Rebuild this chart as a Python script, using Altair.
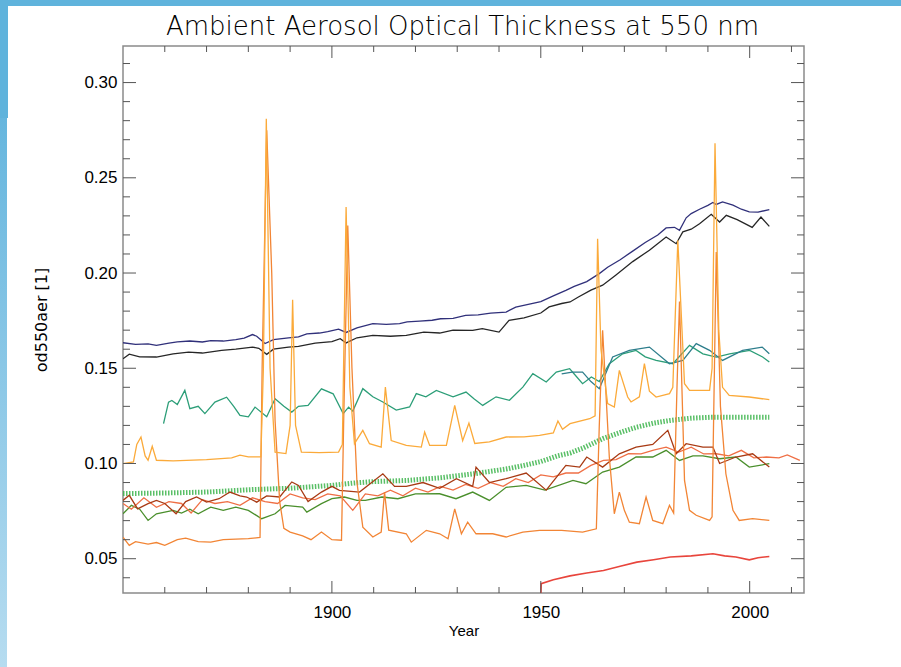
import altair as alt
import pandas as pd

TITLE = "Ambient Aerosol Optical Thickness at 550 nm"
X_TITLE = "Year"
Y_TITLE = "od550aer [1]"

X_DOMAIN = [1850, 2013]
Y_DOMAIN = [0.032, 0.3192]
x_labels = [1900, 1950, 2000]
x_minor = [1860, 1870, 1880, 1890, 1910, 1920, 1930, 1940, 1960, 1970, 1980, 1990, 2010]
y_labels = [0.05, 0.10, 0.15, 0.20, 0.25, 0.30]
y_minor = [0.04, 0.06, 0.07, 0.08, 0.09, 0.11, 0.12, 0.13, 0.14, 0.16, 0.17, 0.18, 0.19,
           0.21, 0.22, 0.23, 0.24, 0.26, 0.27, 0.28, 0.29, 0.31]

# (year, optical thickness) per model run
navy = [(1850, 0.1634), (1853, 0.1625), (1856, 0.1628), (1858, 0.1620), (1861, 0.1632), (1863, 0.1638),
        (1866, 0.1643), (1869, 0.1638), (1871, 0.1645), (1874, 0.1643), (1877, 0.1650), (1879, 0.1658),
        (1881, 0.1677), (1882, 0.1668), (1884, 0.1630), (1886, 0.1650), (1889.6, 0.1660), (1892, 0.1665),
        (1894, 0.1680), (1897, 0.1685), (1899, 0.1692), (1901.6, 0.1705), (1903.4, 0.1688), (1906, 0.1712),
        (1909.8, 0.1734), (1913, 0.1730), (1916.2, 0.1734), (1918, 0.1743), (1921, 0.1748), (1924, 0.1752),
        (1926, 0.1760), (1929, 0.1762), (1932, 0.1778), (1935, 0.1780), (1938, 0.1790), (1941.7, 0.1795),
        (1944, 0.1821), (1947, 0.1835), (1950, 0.1850), (1953, 0.1880), (1956, 0.1909), (1958, 0.1930),
        (1961, 0.1955), (1964, 0.1997), (1966, 0.2030), (1969, 0.2070), (1972, 0.2115), (1975, 0.2160),
        (1978, 0.2200), (1980, 0.2237), (1982, 0.2240), (1983.2, 0.2224), (1984.8, 0.2290), (1986, 0.2312),
        (1988, 0.2335), (1990, 0.2355), (1991.2, 0.2370), (1992, 0.2360), (1993.5, 0.2373), (1996, 0.2356),
        (1998, 0.2335), (1999.9, 0.2321), (2002, 0.2320), (2004.7, 0.2333)]

black = [(1850, 0.1550), (1851.5, 0.1574), (1854, 0.1560), (1858, 0.1559), (1862, 0.1575), (1865.7, 0.1585),
         (1869, 0.1580), (1873.6, 0.1594), (1877, 0.1600), (1881, 0.1611), (1882.5, 0.1605), (1884.4, 0.1573),
         (1886, 0.1600), (1889.6, 0.1611), (1892, 0.1615), (1896, 0.1632), (1900, 0.1640), (1902, 0.1655),
         (1903.4, 0.1633), (1906, 0.1660), (1909.8, 0.1673), (1914, 0.1668), (1917.8, 0.1673), (1922, 0.1690),
         (1925.8, 0.1685), (1929, 0.1700), (1933.7, 0.1699), (1936, 0.1708), (1940, 0.1690), (1942.4, 0.1752),
         (1946, 0.1765), (1950, 0.1790), (1952, 0.1822), (1955, 0.1840), (1957, 0.1848), (1959, 0.1874),
         (1962, 0.1910), (1964.8, 0.1936), (1968, 0.1990), (1972, 0.2060), (1976, 0.2120), (1980, 0.2189),
         (1982.4, 0.2154), (1984, 0.2216), (1986, 0.2230), (1988, 0.2259), (1990.8, 0.2308), (1992.8, 0.2268),
         (1994.4, 0.2303), (1997, 0.2280), (2000.6, 0.2240), (2002.7, 0.2294), (2004.7, 0.2245)]

teal = [(1859.7, 0.1209), (1860.9, 0.1322), (1861.7, 0.1331), (1863, 0.1310), (1864.8, 0.1384), (1866, 0.1288),
        (1868, 0.1300), (1869.6, 0.1262), (1872, 0.1322), (1874.8, 0.1348), (1876.5, 0.1300), (1878, 0.1253),
        (1880, 0.1245), (1881.6, 0.1296), (1884.4, 0.1245), (1886.4, 0.1340), (1888.5, 0.1300), (1890.4, 0.1270),
        (1892, 0.1300), (1894.3, 0.1305), (1897.5, 0.1392), (1900.3, 0.1366), (1902.7, 0.1262), (1904, 0.1296),
        (1905, 0.1275), (1907.4, 0.1393), (1909.8, 0.1350), (1912.2, 0.1323), (1915.4, 0.1280), (1918.6, 0.1297),
        (1920.2, 0.1367), (1922.5, 0.1350), (1925, 0.1384), (1929, 0.1350), (1932.1, 0.1375), (1934, 0.1340),
        (1936.1, 0.1305), (1939.3, 0.1350), (1942.5, 0.1332), (1945.7, 0.1401), (1948.1, 0.1472), (1951.3, 0.1428),
        (1953.7, 0.1480), (1956.9, 0.1498), (1958, 0.1470), (1960, 0.1419), (1962.1, 0.1454), (1964, 0.1430),
        (1966.4, 0.1524), (1969.6, 0.1576), (1972.8, 0.1594), (1975, 0.1560), (1977.6, 0.1541), (1981.6, 0.1524),
        (1985.6, 0.1620), (1988.8, 0.1576), (1992, 0.1559), (1995.2, 0.1576), (2000, 0.1594), (2003.1, 0.1559),
        (2004.7, 0.1533)]

blue_teal = [(1955, 0.1470), (1957.5, 0.1480), (1960, 0.1480), (1962, 0.1430), (1964, 0.1393), (1967.2, 0.1559),
             (1971.2, 0.1594), (1976, 0.1611), (1980.8, 0.1524), (1984, 0.1541), (1987.2, 0.1629), (1990.4, 0.1594),
             (1993.5, 0.1541), (1998.3, 0.1594), (2003, 0.1611), (2004.7, 0.1576)]

light_orange = [(1850, 0.0999), (1852.5, 0.1008), (1853.3, 0.1100), (1854.3, 0.1139), (1855.3, 0.1040),
                (1856, 0.1017), (1857, 0.1090), (1858, 0.1017), (1862, 0.1014), (1870, 0.1020), (1876, 0.1030),
                (1878, 0.1044), (1880, 0.1035), (1883, 0.1035), (1883.6, 0.1500), (1884.3, 0.2810), (1885.2, 0.1500),
                (1886.4, 0.1060), (1889, 0.1052), (1890, 0.1200), (1890.6, 0.1860), (1891.3, 0.1200), (1892.7, 0.1060),
                (1897, 0.1057), (1901.6, 0.1060), (1902.5, 0.1100), (1903.4, 0.2347), (1904.3, 0.1400), (1905.4, 0.1104),
                (1907.4, 0.1174), (1909, 0.1104), (1911.8, 0.1086), (1912.8, 0.1401), (1914.2, 0.1120), (1917.8, 0.1095),
                (1921.4, 0.1086), (1922.2, 0.1165), (1923.4, 0.1095), (1927.4, 0.1095), (1929.4, 0.1305), (1931.3, 0.1120),
                (1932.8, 0.1212), (1934.2, 0.1105), (1937.7, 0.1113), (1941.7, 0.1139), (1946, 0.1140), (1949.7, 0.1148),
                (1953, 0.1160), (1954.1, 0.1223), (1955.2, 0.1180), (1957, 0.1209), (1961.7, 0.1235), (1963, 0.1250),
                (1963.6, 0.2180), (1964.4, 0.1600), (1966, 0.1314), (1967.6, 0.1296), (1968.8, 0.1489), (1970.8, 0.1349),
                (1971.6, 0.1323), (1973.6, 0.1350), (1974.8, 0.1524), (1976, 0.1380), (1977.6, 0.1349), (1980.8, 0.1367),
                (1981.6, 0.1400), (1982.8, 0.2172), (1984.4, 0.1419), (1985.6, 0.1384), (1990.4, 0.1384), (1991, 0.1500),
                (1991.7, 0.2681), (1992.6, 0.1700), (1993.5, 0.1400), (1995.1, 0.1358), (1999.9, 0.1349), (2004.7, 0.1335)]

dark_orange = [(1850, 0.0613), (1851.5, 0.0570), (1853, 0.0590), (1856, 0.0577), (1858, 0.0585), (1860, 0.0570),
               (1863, 0.0600), (1865, 0.0608), (1868, 0.0590), (1871, 0.0587), (1874, 0.0600), (1877, 0.0603),
               (1880, 0.0605), (1882.8, 0.0612), (1883.3, 0.1500), (1884.4, 0.2750), (1885.6, 0.2000), (1886.4, 0.1226),
               (1887.5, 0.0800), (1888.5, 0.0660), (1890, 0.0640), (1893, 0.0620), (1895, 0.0600), (1897.5, 0.0640),
               (1900, 0.0600), (1902.3, 0.0597), (1902.8, 0.1200), (1903.8, 0.2250), (1904.8, 0.1500), (1906, 0.0900),
               (1907.4, 0.0666), (1909.8, 0.0614), (1911.8, 0.0640), (1912.6, 0.0850), (1913.6, 0.0650), (1917.8, 0.0631),
               (1919, 0.0587), (1922.6, 0.0649), (1925.8, 0.0631), (1927.8, 0.0605), (1929.4, 0.0762), (1931, 0.0631),
               (1932.5, 0.0692), (1934.5, 0.0631), (1938.5, 0.0631), (1941.7, 0.0614), (1945.7, 0.0640), (1949.7, 0.0649),
               (1955, 0.0649), (1960, 0.0640), (1963.3, 0.0657), (1964, 0.1200), (1964.8, 0.1699), (1966.4, 0.1034),
               (1967.6, 0.0736), (1968.8, 0.0850), (1970, 0.0754), (1971.2, 0.0692), (1973.6, 0.0684), (1975.2, 0.0824),
               (1976.8, 0.0701), (1979.2, 0.0684), (1980.8, 0.0780), (1981.8, 0.0740), (1982.6, 0.1400), (1983.2, 0.1850),
               (1984.4, 0.0911), (1985.6, 0.0754), (1987.2, 0.0728), (1990.4, 0.0701), (1991, 0.0720), (1992, 0.2110),
               (1993, 0.1300), (1994.3, 0.0946), (1996, 0.0754), (1997.5, 0.0701), (2000.7, 0.0710), (2004.7, 0.0701)]

light_green = [(1850, 0.0842), (1860, 0.0845), (1870, 0.0850), (1881, 0.0863), (1890, 0.0870), (1900, 0.0885),
               (1905, 0.0897), (1910, 0.0905), (1918, 0.0911), (1926, 0.0925), (1934, 0.0946), (1942, 0.0972),
               (1946, 0.0990), (1950, 0.1010), (1954, 0.1040), (1957, 0.1055), (1960, 0.1080), (1965, 0.1132),
               (1970, 0.1170), (1973, 0.1191), (1977, 0.1212), (1981, 0.1226), (1986, 0.1238), (1991, 0.1243),
               (1996, 0.1243), (2000, 0.1243), (2004.7, 0.1243)]

dark_red = [(1850, 0.0806), (1851.5, 0.0833), (1853.5, 0.0762), (1856, 0.0789), (1858, 0.0806), (1860, 0.0790),
            (1862.7, 0.0736), (1865, 0.0800), (1867.6, 0.0824), (1870, 0.0797), (1873, 0.0815), (1875.6, 0.0850),
            (1878, 0.0830), (1879.6, 0.0824), (1882, 0.0797), (1884.4, 0.0830), (1887.5, 0.0824), (1890.4, 0.0903),
            (1892, 0.0885), (1894.3, 0.0800), (1897.5, 0.0850), (1900, 0.0880), (1901.8, 0.0859), (1906.6, 0.0850),
            (1912.2, 0.0946), (1915, 0.0880), (1917.8, 0.0880), (1921.8, 0.0900), (1925.8, 0.0870), (1929.8, 0.0920),
            (1933.7, 0.0880), (1934.5, 0.0981), (1937.7, 0.0900), (1941.7, 0.0920), (1946.5, 0.0950), (1951.3, 0.0860),
            (1956, 0.0990), (1959.3, 0.0981), (1961, 0.1034), (1964.8, 0.0981), (1968.8, 0.1051), (1972.8, 0.1086),
            (1976.8, 0.1100), (1980.4, 0.1174), (1982.4, 0.1051), (1984.8, 0.1104), (1988.8, 0.1086), (1991.2, 0.1086),
            (1992.8, 0.1000), (1996.7, 0.1034), (2000.7, 0.1051), (2004.7, 0.0981)]

coral = [(1850, 0.0790), (1852, 0.0760), (1855, 0.0820), (1858, 0.0770), (1861, 0.0800), (1864, 0.0790),
         (1866.3, 0.0740), (1869, 0.0810), (1872, 0.0790), (1875, 0.0800), (1878, 0.0780), (1881, 0.0820),
         (1884, 0.0800), (1887, 0.0790), (1890, 0.0840), (1893, 0.0820), (1896, 0.0810), (1899, 0.0840),
         (1902, 0.0830), (1905, 0.0754), (1908, 0.0840), (1911, 0.0830), (1914, 0.0860), (1917, 0.0830),
         (1920, 0.0870), (1923, 0.0850), (1926, 0.0880), (1929, 0.0860), (1932, 0.0890), (1935, 0.0870),
         (1938, 0.0900), (1941, 0.0880), (1944, 0.0920), (1947, 0.0900), (1950, 0.0940), (1953, 0.0930),
         (1956, 0.0950), (1959, 0.0950), (1962, 0.0990), (1965, 0.1016), (1968, 0.1020), (1971, 0.1051),
         (1974, 0.1050), (1977, 0.1070), (1980, 0.1086), (1983, 0.1060), (1986, 0.1086), (1989, 0.1050),
         (1992, 0.1051), (1995, 0.1040), (1998, 0.1069), (2001, 0.1030), (2004, 0.1034), (2007, 0.1030),
         (2009, 0.1045), (2012, 0.1016)]

dark_green = [(1850, 0.0736), (1852, 0.0780), (1854, 0.0760), (1856, 0.0701), (1858, 0.0736), (1862, 0.0754),
              (1864, 0.0740), (1866, 0.0760), (1868, 0.0736), (1871, 0.0771), (1874, 0.0754), (1877, 0.0771),
              (1880, 0.0754), (1883.2, 0.0710), (1886.4, 0.0736), (1888.8, 0.0780), (1893, 0.0771), (1894, 0.0745),
              (1897.5, 0.0789), (1900, 0.0815), (1903, 0.0824), (1906, 0.0806), (1908, 0.0806), (1912, 0.0824),
              (1915.8, 0.0815), (1920, 0.0840), (1925.8, 0.0841), (1929.7, 0.0815), (1933.7, 0.0850), (1937.7, 0.0806),
              (1941.7, 0.0875), (1946.5, 0.0885), (1951, 0.0860), (1957.7, 0.0911), (1960.8, 0.0894), (1964.8, 0.0955),
              (1968.8, 0.0981), (1972.8, 0.1034), (1976.8, 0.1034), (1980, 0.1069), (1983.2, 0.1016), (1986.4, 0.1040),
              (1988.8, 0.1040), (1992.8, 0.1025), (1996.7, 0.1034), (1999.9, 0.0981), (2004.7, 0.0999)]

red = [(1950, 0.0300), (1950.1, 0.0369), (1953, 0.0390), (1957, 0.0410), (1961, 0.0425), (1965, 0.0438),
       (1969, 0.0460), (1973, 0.0482), (1977, 0.0495), (1981, 0.0509), (1986, 0.0515), (1991.2, 0.0526),
       (1994, 0.0515), (1996.7, 0.0509), (1999.9, 0.0494), (2002, 0.0505), (2004.7, 0.0512)]

W, H = 681, 547
FONT = "Liberation Sans"

x_scale = alt.Scale(domain=X_DOMAIN, nice=False, zero=False)
y_scale = alt.Scale(domain=Y_DOMAIN, nice=False, zero=False)

x_axis = alt.Axis(values=x_labels, format="d", tickSize=0, domain=False, grid=False,
                  labelFont=FONT, labelFontSize=17, labelColor="black", labelPadding=11,
                  title=X_TITLE, titleFont=FONT, titleFontSize=15, titleFontWeight="normal",
                  titleColor="black", titlePadding=3)
y_axis = alt.Axis(values=y_labels, format=".2f", tickSize=0, domain=False, grid=False,
                  labelFont=FONT, labelFontSize=17, labelColor="black", labelPadding=6,
                  title=Y_TITLE, titleFont="DejaVu Sans", titleFontSize=16, titleFontWeight="normal",
                  titleColor="black", titlePadding=34)


def series_line(points, color, width=1.3, opacity=1.0, dash=None):
    df = pd.DataFrame(points, columns=["year", "aod"])
    style = dict(color=color, strokeWidth=width, opacity=opacity, clip=True)
    if dash:
        style["strokeDash"] = dash
    return alt.Chart(df).mark_line(**style).encode(
        x=alt.X("year:Q", scale=x_scale, axis=x_axis),
        y=alt.Y("aod:Q", scale=y_scale, axis=y_axis),
    )


def y_ticks(values, x0, x1):
    return alt.Chart(pd.DataFrame({"v": values})).mark_rule(color="#555555", strokeWidth=1).encode(
        y=alt.Y("v:Q", scale=y_scale, axis=y_axis), x=alt.value(x0), x2=alt.value(x1))


def x_ticks(values, y0, y1):
    return alt.Chart(pd.DataFrame({"v": values})).mark_rule(color="#555555", strokeWidth=1).encode(
        x=alt.X("v:Q", scale=x_scale, axis=x_axis), y=alt.value(y0), y2=alt.value(y1))


one = pd.DataFrame({"k": [0]})

# slide border around the figure
top_band = alt.Chart(one).mark_rect(color="#5fb3dc").encode(
    x=alt.value(-123), x2=alt.value(778), y=alt.value(-46), y2=alt.value(-40))
left_band_top = alt.Chart(one).mark_rect(color="#5fb3dc").encode(
    x=alt.value(-123), x2=alt.value(-115), y=alt.value(-46), y2=alt.value(72))
left_band = alt.Chart(one).mark_rect(
    color=alt.Gradient(gradient="linear", x1=0, x2=0, y1=0, y2=1,
                       stops=[alt.GradientStop(color="#66b6de", offset=0),
                              alt.GradientStop(color="#b6dcf0", offset=1)])
).encode(x=alt.value(-123), x2=alt.value(-116), y=alt.value(72), y2=alt.value(621))

# chart heading, centred over the plot frame
heading = alt.Chart(one).mark_text(
    text=TITLE, font="DejaVu Sans", fontSize=26, fontWeight=200, color="black",
    align="center", baseline="alphabetic"
).encode(x=alt.value(W / 2 - 1), y=alt.value(-11.5))

lines = [
    series_line(navy, "#30307a"),
    series_line(black, "#262626"),
    series_line(teal, "#2c9e78"),
    series_line(blue_teal, "#2e7e8c"),
    series_line(light_green, "#3cb44b", width=5, opacity=0.85, dash=[1.5, 1.5]),
    series_line(dark_green, "#4a8f2c"),
    series_line(coral, "#ef6f45"),
    series_line(dark_red, "#a83a14"),
    series_line(red, "#e8453c", width=1.6),
    series_line(dark_orange, "#f28535"),
    series_line(light_orange, "#fbaa3a"),
]

ticks = [
    y_ticks(y_labels, 0, 13), y_ticks(y_minor, 0, 7),
    y_ticks(y_labels, W, W - 13), y_ticks(y_minor, W, W - 7),
    x_ticks(x_labels, H, H - 12), x_ticks(x_minor, H, H - 6),
    x_ticks(x_labels, 0, 12), x_ticks(x_minor, 0, 6),
]

chart = alt.layer(top_band, left_band_top, left_band, heading, *lines, *ticks).properties(
    width=W, height=H,
    autosize=alt.AutoSizeParams(type="none"),
    padding={"left": 123, "top": 46, "right": 97, "bottom": 74},
    background="white",
).configure_view(stroke="#8a8a8a", strokeWidth=1.5)

chart.save("out.html", embed_options={"renderer": "svg", "actions": False})
